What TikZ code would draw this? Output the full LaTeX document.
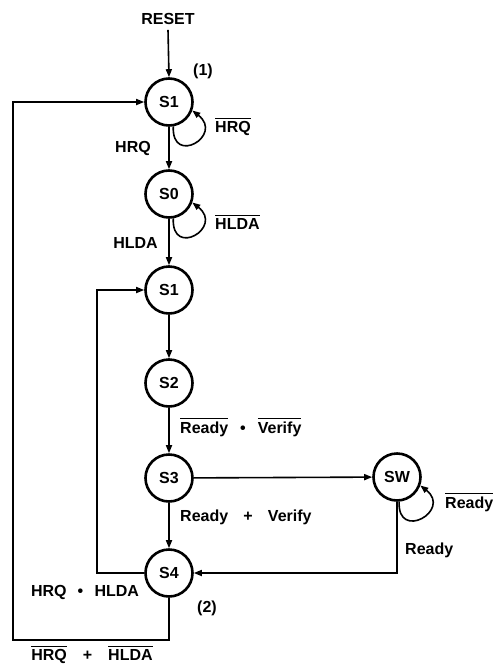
\documentclass[tikz,border=0pt]{standalone}
\usepackage{fontspec}
\setmainfont{Liberation Sans}
\usetikzlibrary{arrows.meta}
\newcommand{\ob}[1]{\leavevmode\vbox{\hrule height 1.2pt\kern 2.6pt\hbox{#1}}}
\tikzset{
  state/.style={circle, draw, line width=2.6pt, minimum size=47pt, inner sep=0pt},
  lbl/.style={inner sep=0pt},
  conn/.style={line width=1.6pt},
  arr/.style={conn, -{Triangle[length=8pt,width=6pt]}},
  every node/.style={font=\bfseries\fontsize{16}{18}\selectfont}
}
\begin{document}
\begin{tikzpicture}[x=1pt,y=-1pt]
\path[use as bounding box] (0,0) rectangle (494,667);
% states
\node[state] (S1a) at (169,102) {S1};
\node[state] (S0)  at (169,194) {S0};
\node[state] (S1b) at (169,290) {S1};
\node[state] (S2)  at (169,383) {S2};
\node[state] (S3)  at (169,478) {S3};
\node[state] (S4)  at (169,573) {S4};
\node[state] (SW)  at (397,477) {SW};
\node[lbl] (reset) at (168,19) {RESET};
% coordinates
\coordinate (oc) at (13,640);
\coordinate (ic) at (97,430);
% main chain
\draw[arr] (reset.south) ++(0,5) coordinate (rs) -- (S1a.north);
\draw[arr] (S1a) -- (S0);
\draw[arr] (S0) -- (S1b);
\draw[arr] (S1b) -- (S2);
\draw[arr] (S2) -- (S3);
\draw[arr] (S3) -- (S4);
\draw[arr] (S3) -- (SW);
\draw[arr] (SW.south) |- (S4.east);
\draw[arr] (S4.west) -| (ic) |- (S1b.west);
\draw[arr] (S4.south) |- (oc) |- (S1a.west);
% self loops
\draw[arr] (S1a.-80) .. controls +(-2,40) and +(32,25) .. (S1a.-20);
\draw[arr] (S0.-80) .. controls +(-2,40) and +(32,25) .. (S0.-20);
\draw[arr] (SW.-85) .. controls +(-2,40) and +(32,25) .. (SW.-20);
% labels
\node[lbl] (l1) at (203,71) {(1)};
\node[lbl, anchor=east] (lhrq) at (151,148) {HRQ};
\node[lbl, anchor=west] (lnhrq) at (215,127) {\ob{HRQ}};
\node[lbl, anchor=west] (lnhlda) at (215,222) {\ob{HLDA}};
\node[lbl, anchor=east] (lhlda) at (158,243) {HLDA};
\node[lbl, anchor=west] (lrv1) at (180,427) {\ob{Ready}\hspace{0.75em}•\hspace{0.75em}\ob{Verify}};
\node[lbl, anchor=west] (lrv2) at (180,517) {Ready\hspace{0.95em}+\hspace{0.95em}Verify};
\node[lbl, anchor=west] (lnready) at (445,502) {\ob{Ready}};
\node[lbl, anchor=west] (lready) at (405,550) {Ready};
\node[lbl] (lhh) at (85,592) {HRQ\hspace{0.7em}•\hspace{0.7em}HLDA};
\node[lbl] (l2) at (207,608) {(2)};
\node[lbl] (lnhh) at (92,655) {\ob{HRQ}\hspace{1em}+\hspace{1em}\ob{HLDA}};
\end{tikzpicture}
\end{document}
